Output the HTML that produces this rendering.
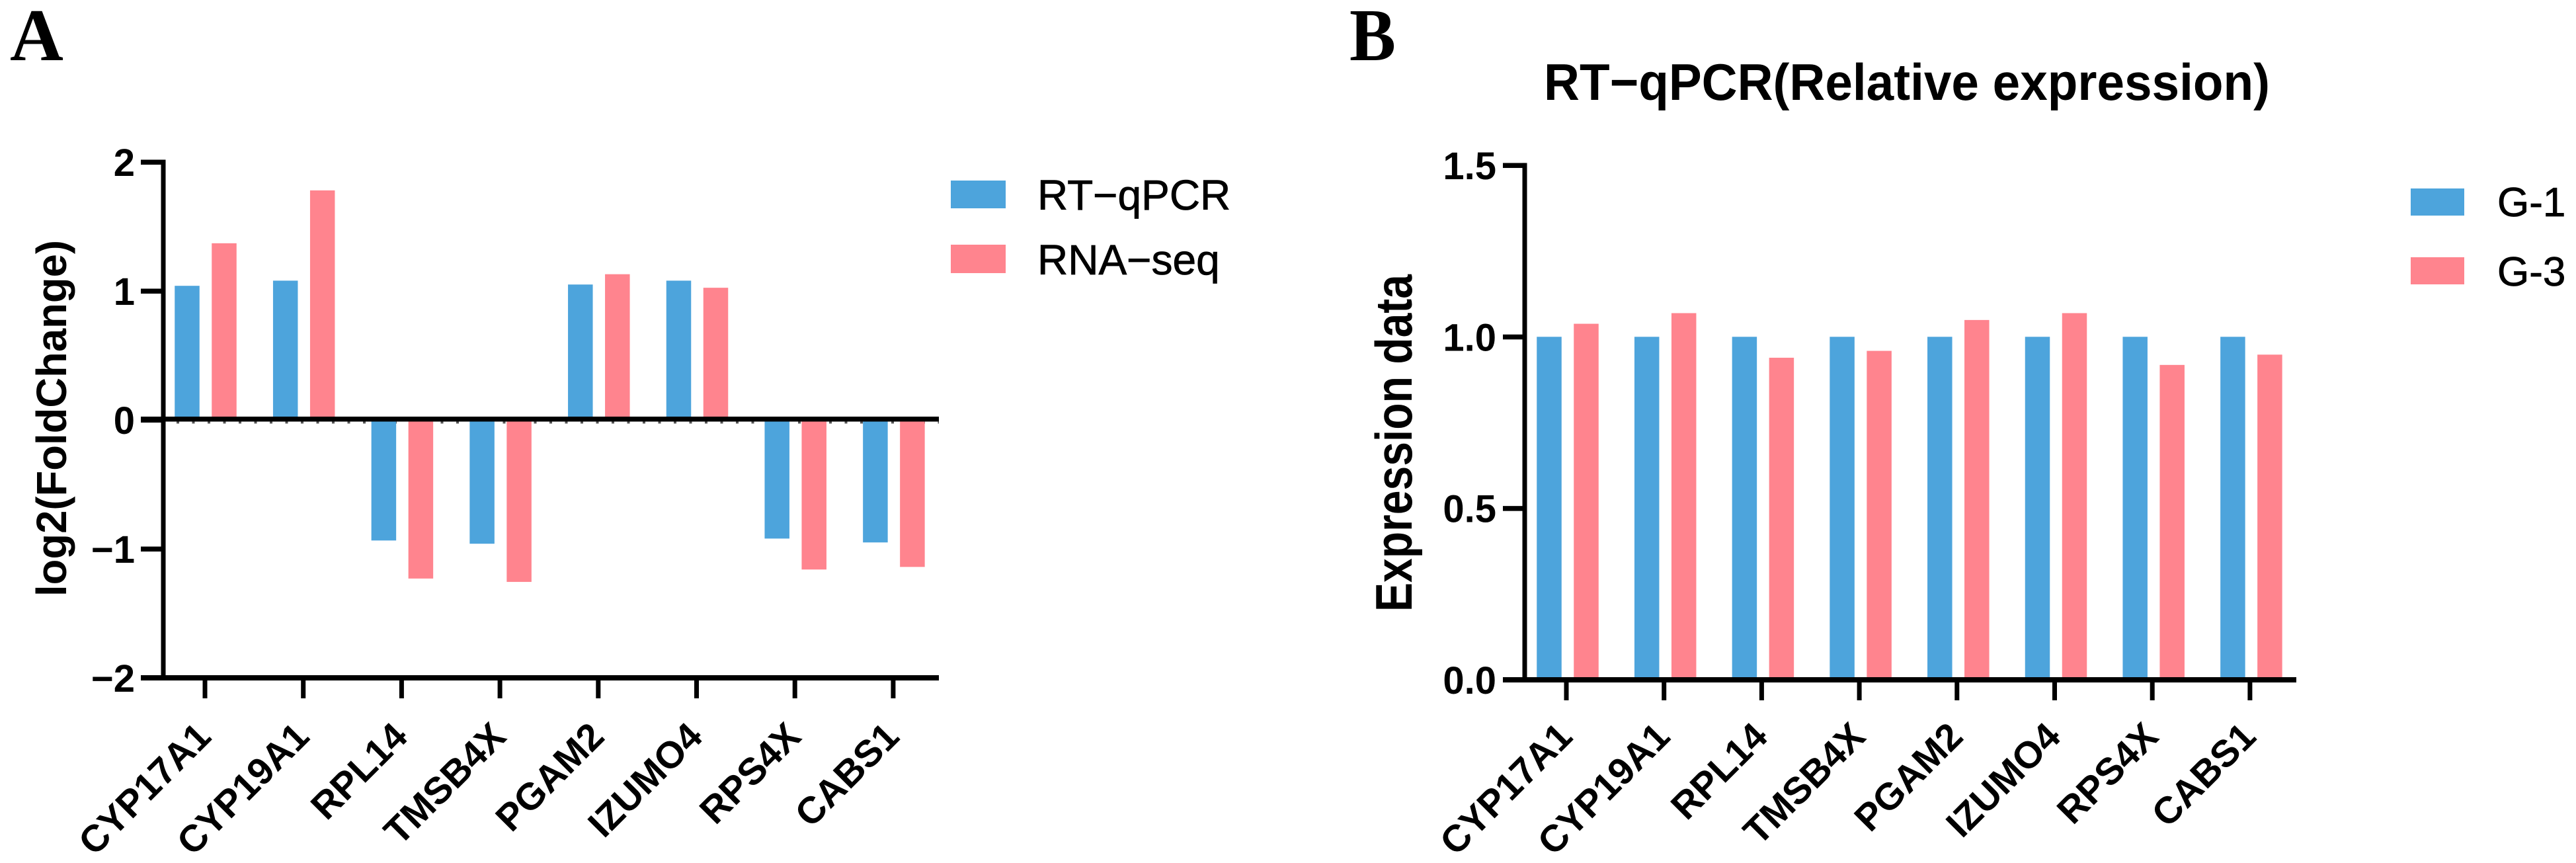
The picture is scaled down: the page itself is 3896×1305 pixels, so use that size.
<!DOCTYPE html>
<html lang="en">
<head>
<meta charset="utf-8">
<title>RT-qPCR and RNA-seq validation</title>
<style>
html,body{margin:0;padding:0;background:#fff;}
svg{display:block;}
text{font-family:"Liberation Sans",Arial,sans-serif;fill:#000;}
.panel{font-family:"Liberation Serif",serif;font-weight:bold;font-size:112px;}
.tick{font-weight:bold;font-size:58px;text-anchor:end;}
.cat{font-weight:bold;font-size:57px;text-anchor:end;}
.legend-text{stroke:#000;stroke-width:0.8px;}
</style>
</head>
<body>
<svg id="figure" xmlns="http://www.w3.org/2000/svg" width="3896" height="1305" viewBox="0 0 3896 1305">
  <rect x="0" y="0" width="3896" height="1305" fill="#ffffff"/>

  <text class="panel" x="15" y="91">A</text>
  <text class="panel" x="2041" y="91" textLength="70" lengthAdjust="spacingAndGlyphs">B</text>

  <text x="2335" y="151" font-size="78" font-weight="bold" textLength="1098" lengthAdjust="spacingAndGlyphs">RT−qPCR(Relative expression)</text>

  <text transform="translate(100,902) rotate(-90)" font-size="64" font-weight="bold" textLength="539" lengthAdjust="spacingAndGlyphs">log2(FoldChange)</text>
  <text transform="translate(2135,925) rotate(-90)" font-size="78" font-weight="bold" textLength="510" lengthAdjust="spacingAndGlyphs">Expression data</text>

  <g>
    <rect x="1438" y="273" width="83" height="42" fill="#4da4dc"/>
    <text class="legend-text" x="1569" y="317" font-size="64">RT−qPCR</text>
    <rect x="1438" y="370" width="83" height="43" fill="#ff848e"/>
    <text class="legend-text" x="1569" y="415" font-size="64">RNA−seq</text>
  </g>
  <g>
    <rect x="3646" y="285" width="81" height="41" fill="#4da4dc"/>
    <text class="legend-text" x="3777" y="327" font-size="62">G-1</text>
    <rect x="3646" y="389" width="81" height="41" fill="#ff848e"/>
    <text class="legend-text" x="3777" y="432" font-size="62">G-3</text>
  </g>

  <line x1="267" y1="639" x2="1420" y2="639" stroke="#555555" stroke-width="3" stroke-dasharray="4 19.5"/>

  <g id="chart-a"></g>
  <g id="chart-b"></g>
</svg>

<script>
const categories = ["CYP17A1", "CYP19A1", "RPL14", "TMSB4X", "PGAM2", "IZUMO4", "RPS4X", "CABS1"];

const rtqpcrValues = [1.04, 1.08, -0.935, -0.96, 1.05, 1.08, -0.92, -0.95];
const rnaseqValues = [1.37, 1.78, -1.23, -1.256, 1.13, 1.025, -1.16, -1.14];
const chartATicks = [2, 1, 0, -1, -2];
const chartATickLabels = ["2", "1", "0", "−1", "−2"];

const g1Values = [1, 1, 1, 1, 1, 1, 1, 1];
const g3Values = [1.038, 1.069, 0.939, 0.959, 1.049, 1.069, 0.918, 0.948];
const chartBTicks = [1.5, 1.0, 0.5, 0.0];
const chartBTickLabels = ["1.5", "1.0", "0.5", "0.0"];

const SVGNS = "http://www.w3.org/2000/svg";
const BLUE = "#4da4dc";
const PINK = "#ff848e";

function yA(v) { return 635 - v * 195; }
function xA(i) { return 310 + i * 148.7; }
function yB(v) { return 1028 - v * 518.7; }
function xB(i) { return 2369 + i * 147.7; }

function makeRect(parent, x, y, w, h, fill) {
  const r = document.createElementNS(SVGNS, "rect");
  r.setAttribute("x", x);
  r.setAttribute("y", y);
  r.setAttribute("width", w);
  r.setAttribute("height", h);
  r.setAttribute("fill", fill);
  parent.appendChild(r);
  return r;
}

function makeText(parent, cls, str, x, y, rotate) {
  const t = document.createElementNS(SVGNS, "text");
  t.setAttribute("class", cls);
  t.textContent = str;
  if (rotate) {
    t.setAttribute("transform", "translate(" + x + "," + y + ") rotate(" + rotate + ")");
  } else {
    t.setAttribute("x", x);
    t.setAttribute("y", y);
  }
  parent.appendChild(t);
  return t;
}

function drawChart(cfg) {
  const g = document.getElementById(cfg.id);
  const base = cfg.y(cfg.baseValue);

  cfg.seriesA.forEach(function (v, i) {
    const cx = cfg.x(i) + cfg.barShift;
    const y0 = cfg.y(v);
    const top = Math.min(y0, base);
    const bar = makeRect(g, cx - 28 - 18.75, top, 37.5, Math.abs(y0 - base), BLUE);
    
    
  });
  cfg.seriesB.forEach(function (v, i) {
    const cx = cfg.x(i) + cfg.barShift;
    const y0 = cfg.y(v);
    const top = Math.min(y0, base);
    const bar = makeRect(g, cx + 28 - 18.75, top, 37.5, Math.abs(y0 - base), PINK);
    
    
  });

  const yAxis = makeRect(g, cfg.axisX - 3.5, cfg.y(cfg.ticks[0]) - 3.5, 7, cfg.y(cfg.ticks[cfg.ticks.length - 1]) - cfg.y(cfg.ticks[0]) + 7, "#000");
  
  

  const xAxis = makeRect(g, cfg.tickLeft, cfg.bottom - 4, cfg.axisEnd - cfg.tickLeft, 8, "#000");
  
  

  if (cfg.baseValue === 0 && cfg.y(0) !== cfg.bottom) {
    const zero = makeRect(g, cfg.tickLeft, cfg.y(0) - 5, cfg.axisEnd - cfg.tickLeft, 7.5, "#000");
    
    
  }

  cfg.ticks.forEach(function (v, i) {
    const ty = cfg.y(v);
    const mark = makeRect(g, cfg.tickLeft, ty - 3.5, cfg.axisX - cfg.tickLeft, 7.5, "#000");
    
    
    const label = makeText(g, "tick", cfg.tickLabels[i], cfg.labelRight, ty + 21);
    
    
  });

  categories.forEach(function (c, i) {
    const tx = cfg.x(i);
    const mark = makeRect(g, tx - 3.5, cfg.bottom, 7, 31, "#000");
    
    
    const label = makeText(g, "cat", c, tx + 12, 1117, -45);
    
    
  });
}

drawChart({
  id: "chart-a", nameA: "rt-qpcr", nameB: "rna-seq",
  x: xA, y: yA, seriesA: rtqpcrValues, seriesB: rnaseqValues,
  ticks: chartATicks, tickLabels: chartATickLabels,
  baseValue: 0, bottom: 1025, axisX: 247, tickLeft: 213, axisEnd: 1420,
  labelRight: 204, barShift: 1
});

drawChart({
  id: "chart-b", nameA: "g-1", nameB: "g-3",
  x: xB, y: yB, seriesA: g1Values, seriesB: g3Values,
  ticks: chartBTicks, tickLabels: chartBTickLabels,
  baseValue: 0, bottom: 1028, axisX: 2306, tickLeft: 2273, axisEnd: 3473,
  labelRight: 2263, barShift: 2
});
</script>
</body>
</html>
